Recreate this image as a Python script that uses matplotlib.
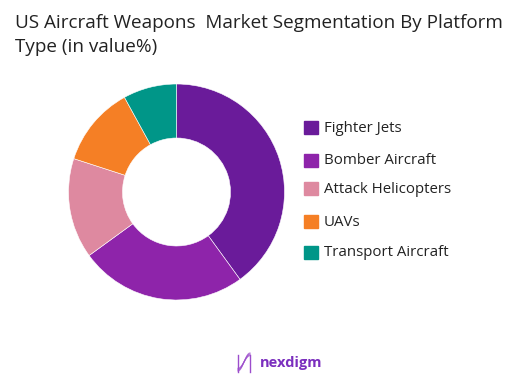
import matplotlib
matplotlib.use("Agg")
import matplotlib.pyplot as plt
import numpy as np
from matplotlib.patches import Rectangle

# data
segments = ["Fighter Jets", "Bomber Aircraft", "Attack Helicopters", "UAVs", "Transport Aircraft"]
shares = [40, 25, 15, 12, 8]
colors = ["#6A1B9A", "#8E24AA", "#DE89A0", "#F57F25", "#009688"]

plt.rcParams['font.family'] = ['Open Sans', 'DejaVu Sans']

W, H = 522, 385
fig = plt.figure(figsize=(W / 100, H / 100), dpi=100)

fig.text(15 / W, 1 - 28 / H, "US Aircraft Weapons  Market Segmentation By Platform",
         fontsize=13.6, color="#222222", va="baseline")
fig.text(15 / W, 1 - 52 / H, "Type (in value%)",
         fontsize=13.6, color="#222222", va="baseline")

# donut
cx, cy, r = 176.5, 192, 108
ax = fig.add_axes([(cx - r) / W, (H - cy - r) / H, 2 * r / W, 2 * r / H])
ax.pie(shares, colors=colors, startangle=90, counterclock=False,
       wedgeprops=dict(width=0.5, edgecolor="white", linewidth=0.4))
ax.set_aspect("equal")
ax.set_xlim(-1, 1)
ax.set_ylim(-1, 1)
ax.axis("off")

# legend
leg_y = [128, 161, 189, 222, 253]
for lab, col, y in zip(segments, colors, leg_y):
    fig.patches.append(Rectangle((304 / W, 1 - (y + 6) / H), 14 / W, 13 / H,
                                 transform=fig.transFigure, color=col))
    fig.text(324 / W, 1 - y / H, lab, fontsize=10.8, color="#222222", va="center")

# logo
lx = np.linspace(0, 1, 50)
for k in range(4):
    yy = 0.5 + 0.45 * np.sin(np.pi * (lx - 0.5)) * (1 - 0.1 * k)
    fig.add_artist(plt.Line2D((238 + 12 * lx) / W, (1 - (372 - 20 * yy) / H),
                              color="#9C4DCC", lw=0.8, alpha=0.7))
fig.add_artist(plt.Line2D([238 / W, 238 / W], [1 - 372 / H, 1 - 355 / H], color="#9C4DCC", lw=1))
fig.add_artist(plt.Line2D([250 / W, 250 / W], [1 - 372 / H, 1 - 355 / H], color="#9C4DCC", lw=1))
fig.text(260 / W, 1 - 363 / H, "nexdigm", fontsize=10.5, color="#7B2FBE",
         fontweight="bold", va="center")

fig.savefig("out.png", dpi=100)
